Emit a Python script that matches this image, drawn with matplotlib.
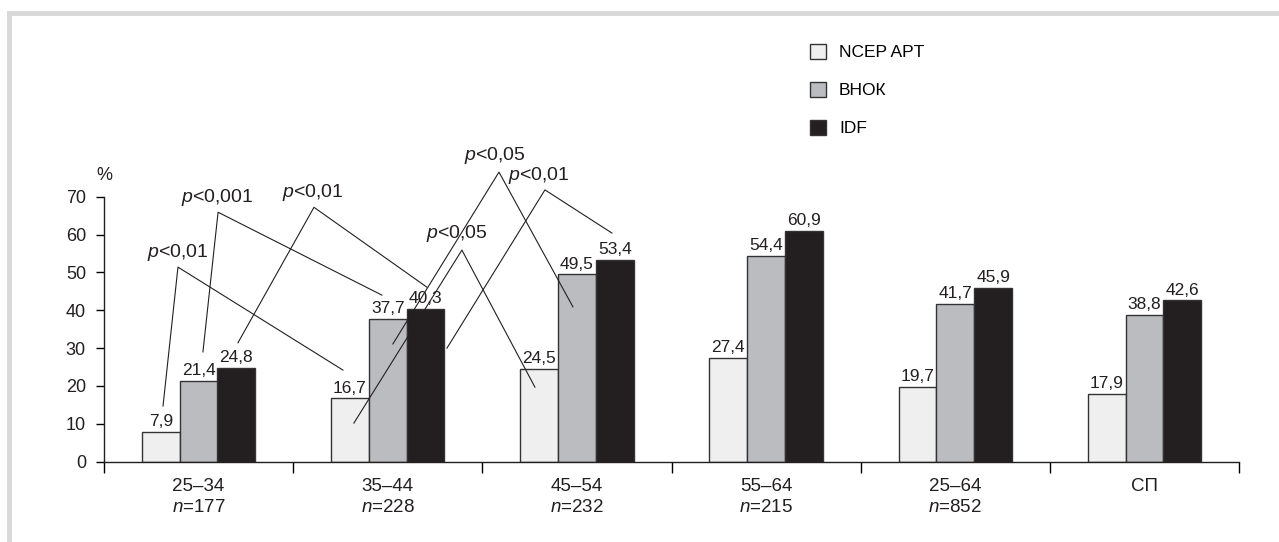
import matplotlib
matplotlib.use("Agg")
import matplotlib.pyplot as plt
from matplotlib.patches import Rectangle
import numpy as np

plt.rcParams['font.family'] = ['Liberation Sans', 'DejaVu Sans']
plt.rcParams['mathtext.fontset'] = 'custom'
plt.rcParams['mathtext.rm'] = 'Liberation Sans'
plt.rcParams['mathtext.it'] = 'Liberation Sans:italic'

# ---- data ----
groups = ["25–34", "35–44", "45–54", "55–64", "25–64", "СП"]
group_n = ["177", "228", "232", "215", "852", None]
series_names = ["NCEP APT", "ВНОК", "IDF"]
ncep = [7.9, 16.7, 24.5, 27.4, 19.7, 17.9]
vnok = [21.4, 37.7, 49.5, 54.4, 41.7, 38.8]
idf = [24.8, 40.3, 53.4, 60.9, 45.9, 42.6]
yticks = [0, 10, 20, 30, 40, 50, 60, 70]

# significance annotations: label, text position, apex, two ends (data coords)
annotations = [
    ("$p$<0,01", (-0.11, 55.3), (-0.109, 51.4), (-0.188, 14.7), (0.763, 24.2)),
    ("$p$<0,001", (0.10, 69.9), (0.103, 65.9), (0.023, 29.0), (0.969, 44.0)),
    ("$p$<0,01", (0.605, 71.2), (0.610, 67.2), (0.208, 31.4), (1.207, 46.1)),
    ("$p$<0,05", (1.567, 81.0), (1.588, 76.5), (1.027, 31.1), (1.979, 40.9)),
    ("$p$<0,01", (1.80, 75.7), (1.831, 71.8), (1.313, 30.0), (2.185, 60.4)),
    ("$p$<0,05", (1.366, 60.4), (1.392, 55.9), (0.821, 10.2), (1.778, 19.7)),
]

colors = ["#efefef", "#bbbcc0", "#231f20"]
edge = "#333333"
txt_c = "#231f20"

W, H = 1279, 542
fig = plt.figure(figsize=(W / 100, H / 100), dpi=100)
ax = fig.add_axes([104 / W, (H - 461.7) / H, 1135 / W, 265 / H])

x = np.arange(len(groups))
bw = 0.2
all_series = [ncep, vnok, idf]
for k, (vals, c, name) in enumerate(zip(all_series, colors, series_names)):
    bars = ax.bar(x + (k - 1) * bw, vals, width=bw, color=c, edgecolor=edge,
                  linewidth=1.0, label=name, zorder=2)
    ax.bar_label(bars, labels=[f"{v:.1f}".replace(".", ",") for v in vals],
                 padding=2, fontsize=12.5, color=txt_c)

ax.set_xlim(-0.5, len(groups) - 0.5)
ax.set_ylim(0, 70)
ax.set_yticks(yticks)
ax.set_yticklabels([str(t) for t in yticks], fontsize=13, color=txt_c)
ax.tick_params(axis='y', direction='out', length=6, width=1, pad=7)

ax.set_xticks(x)
ax.set_xticklabels([""] * len(groups))
ax.tick_params(axis='x', which='major', length=0)
ax.set_xticks(np.arange(len(groups) + 1) - 0.5, minor=True)
ax.tick_params(axis='x', which='minor', direction='out', length=8, width=1)

for s in ["top", "right"]:
    ax.spines[s].set_visible(False)
for s in ["left", "bottom"]:
    ax.spines[s].set_linewidth(1.0)
    ax.spines[s].set_color(txt_c)

# category labels
for i, (g, n) in enumerate(zip(groups, group_n)):
    ax.annotate(g, xy=(i, 0), xycoords=('data', 'axes fraction'),
                xytext=(0, -25), textcoords='offset pixels',
                ha='center', va='center', fontsize=13.5, color=txt_c)
    if n is not None:
        ax.annotate(f"$n$={n}", xy=(i, 0), xycoords=('data', 'axes fraction'),
                    xytext=(0, -46), textcoords='offset pixels',
                    ha='center', va='center', fontsize=13.5, color=txt_c)

# % label
ax.annotate("%", xy=(0, 1), xycoords='axes fraction', xytext=(0, 21),
            textcoords='offset pixels', ha='center', va='center',
            fontsize=13, color=txt_c)

# significance lines
for label, tpos, apex, e1, e2 in annotations:
    ax.plot([e1[0], apex[0], e2[0]], [e1[1], apex[1], e2[1]], color=txt_c,
            lw=0.8, clip_on=False, zorder=5)
    ax.text(tpos[0], tpos[1], label, ha='center', va='center', fontsize=14,
            color=txt_c, clip_on=False, zorder=6)

# legend
handles = [Rectangle((0, 0), 1, 1, facecolor=c, edgecolor=edge, linewidth=1.0)
           for c in colors]
fig.legend(handles, series_names, loc='upper left',
           bbox_to_anchor=(796 / W, 1 - 30 / H), frameon=False,
           fontsize=12.5, handlelength=0.92, handleheight=0.92,
           handletextpad=0.75, labelspacing=1.25, borderpad=0.3)

# gray frame
frame_c = "#d9d9d9"
fig.add_artist(Rectangle((7 / W, 0), 5 / W, (H - 11) / H, transform=fig.transFigure,
                         facecolor=frame_c, edgecolor='none'))
fig.add_artist(Rectangle((7 / W, 1 - 16 / H), 1 - 7 / W, 5 / H, transform=fig.transFigure,
                         facecolor=frame_c, edgecolor='none'))

fig.savefig("out.png", dpi=100)
